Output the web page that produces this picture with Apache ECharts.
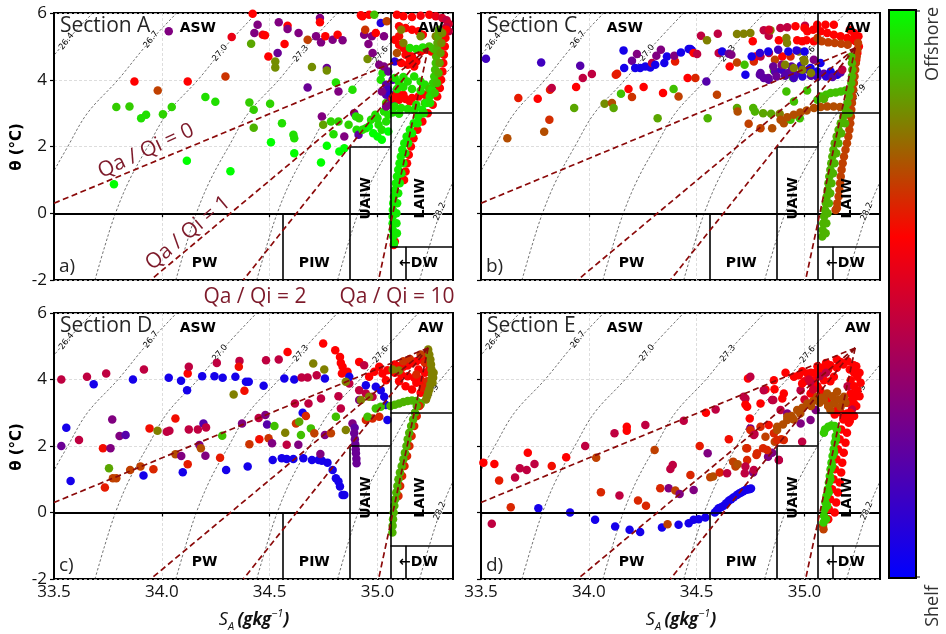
<!DOCTYPE html>
<html>
<head>
<meta charset="utf-8">
<script src="https://cdn.jsdelivr.net/npm/echarts@6/dist/echarts.min.js"></script>
<style>
html,body{margin:0;padding:0;background:#fff;}
#chart{width:946px;height:634px;}
</style>
</head>
<body>
<div id="chart"></div>
<script>
// ---- axis ticks ----
const xTicks = [33.5, 34.0, 34.5, 35.0];
const yTicks = [-2, 0, 2, 4, 6];

// ---- isopycnals (sigma0): absolute salinity at each theta ----
const isoTheta = [-2, -1, 0, 1, 2, 3, 4, 5, 6];
const iso264 = [32.930, 32.975, 33.025, 33.090, 33.175, 33.266, 33.408, 33.535, 33.680];
const iso267 = [33.319, 33.364, 33.414, 33.479, 33.564, 33.655, 33.797, 33.924, 34.069];
const iso270 = [33.690, 33.735, 33.785, 33.850, 33.935, 34.026, 34.168, 34.295, 34.440];
const iso273 = [34.065, 34.110, 34.160, 34.225, 34.310, 34.401, 34.543, 34.670, 34.815];
const iso276 = [34.440, 34.485, 34.535, 34.600, 34.685, 34.776, 34.918, 35.045, 35.190];
const iso279 = [34.815, 34.860, 34.910, 34.975, 35.060, 35.151, 35.293, 35.420, 35.565];
const iso282 = [35.195, 35.240, 35.290, 35.355, 35.440, 35.531, 35.673, 35.800, 35.945];
const isoLevels = ['26.4', '26.7', '27.0', '27.3', '27.6', '27.9', '28.2'];

// ---- mixing lines from the Atlantic Water end member ----
const awEnd = [35.235, 4.95];
const mixEnds = [[33.5, 0.3], [33.948, -2], [34.378, -2], [35.005, -2]];
const mixLabels = ['Qa / Qi = 0', 'Qa / Qi = 1', 'Qa / Qi = 2', 'Qa / Qi = 10'];

// ---- water mass boundaries ----
const boxSegs = [
  [[33.5, 0], [34.87, 0]],
  [[34.56, 0], [34.56, -2]],
  [[34.87, -2], [34.87, 2]],
  [[34.87, 2], [35.06, 2]],
  [[35.06, -2], [35.06, 6]],
  [[35.06, 3], [35.35, 3]],
  [[35.06, -1], [35.35, -1]],
  [[35.13, -1], [35.13, -2]]
];
const massNames = ['ASW', 'AW', 'PW', 'PIW', 'UAIW', 'LAIW', '\u2190DW'];
const massAt = [[34.167, 5.55], [35.247, 5.55], [34.198, -1.5], [34.707, -1.5], [34.946, 0.45], [35.2, 0.45], [35.19, -1.5]];

// ---- CTD samples [S_A, theta, position 0 = shelf ... 1 = offshore] ----
const secA_pts = [
[34.032,5.45,0.3],[33.778,0.87,1],[33.789,3.18,0.92],[33.850,3.2,0.92],[33.873,3.95,0.6],[33.904,2.85,0.95],[33.927,2.95,0.95],
[33.981,3.68,0.7],[34.005,2.97,0.93],[34.046,3.18,0.93],[34.116,1.57,1],[34.120,3.95,0.6],[34.202,3.48,0.95],[34.248,3.34,0.95],
[34.295,4.1,0.68],[34.318,1.26,1],[34.324,5.28,0.55],[34.406,3.32,0.92],[34.414,5.08,0.86],[34.421,5.98,0.6],[34.426,3.1,0.92],
[34.426,2.56,0.88],[34.429,5.4,0.3],[34.444,5.65,0.3],[34.468,5.35,0.55],[34.478,5.33,0.6],[34.537,4.8,0.25],[34.494,4.7,0.6],
[34.502,3.28,0.93],[34.506,2.13,1],[34.526,4.55,0.82],[34.526,4.37,0.82],[34.542,5.72,0.3],[34.557,2.7,0.95],[34.569,5.07,0.6],
[34.583,5.62,0.6],[34.583,5.52,0.3],[34.61,2.35,0.95],[34.614,1.8,1],[34.614,2.25,0.95],[34.634,5.4,0.3],[34.676,3.77,0.25],
[34.676,5.2,0.7],[34.696,4.38,0.82],[34.715,5.3,0.3],[34.733,5.85,0.3],[34.733,5.72,0.6],[34.738,5.12,0.3],[34.738,1.52,1],
[34.742,2.9,0.3],[34.748,2.65,0.85],[34.758,5.3,0.6],[34.765,4.35,0.25],[34.765,4.28,0.82],[34.765,2.02,1],[34.784,2.75,0.93],
[34.792,5.2,0.3],[34.796,2.37,0.95],[34.807,3.92,0.95],[34.815,5.35,0.6],[34.819,3.65,0.3],[34.819,2.75,0.93],[34.823,1.85,1],
[34.838,5.18,0.3],[34.846,2.3,0.3],[34.846,1.95,1],[34.866,2.65,0.93],[34.884,3.7,0.95],[34.892,3.0,0.3],[34.9,2.9,0.95],
[34.903,2.5,0.95],[34.912,2.35,0.22],[34.915,2.85,0.93],[34.923,5.93,0.6],[34.93,5.9,0.6],[34.93,2.5,0.95],[34.938,5.35,0.3],
[34.943,5.5,0.68],[34.946,2.55,0.95],[34.958,5.07,0.3],[34.954,4.62,0.82],[34.961,5.95,0.6],[34.974,5.3,0.3],[34.977,4.8,0.3],
[34.985,5.95,0.9],[34.992,5.4,0.6],[35.005,2.65,0.95],[35.008,4.45,0.3],[35.015,5.7,0.08],[35.015,4.0,0.95],[35.023,4.2,0.95],
[35.03,5.3,0.3],[35.043,5.75,0.7],
[34.96,2.6,1],[34.98,2.4,1],[35.0,2.3,1],[35.02,2.5,0.95],[35.04,2.75,0.95],[35.05,2.95,0.95],[34.97,2.8,0.95],[35.0,2.85,0.95],
[35.03,3.05,0.95],[35.02,2.2,1],[35.05,2.45,1],[34.99,2.95,0.95],[35.04,3.3,0.9]
];
const secA_aw = [
[35.03,4.4,0.3],[35.05,4.25,0.25],[35.04,3.85,0.22],[35.05,3.7,0.15],[35.04,3.55,0.2],[35.06,3.45,0.25],[35.08,3.35,0.3],
[35.06,3.25,0.3],[35.04,3.2,0.3],[35.08,4.55,0.1],[35.02,3.65,0.3],[35.06,3.55,0.1],[35.07,4.0,0.2],
[35.09,5.95,0.6],[35.12,5.9,0.6],[35.16,5.88,0.6],[35.2,5.92,0.58],[35.24,5.95,0.6],[35.27,5.9,0.55],[35.3,5.85,0.5],[35.32,5.78,0.45],
[35.33,5.68,0.5],[35.32,5.58,0.45],[35.3,5.5,0.5],[35.33,5.45,0.45],[35.31,5.38,0.5],
[35.1,5.6,0.6],[35.13,5.55,0.6],[35.16,5.5,0.6],[35.19,5.45,0.6],[35.21,5.35,0.6],[35.1,5.3,0.62],
[35.08,5.2,0.6],[35.1,5.05,0.6],[35.12,4.95,0.6],[35.14,4.88,0.6],[35.13,4.75,0.6],[35.15,4.6,0.6],[35.18,4.55,0.6],
[35.2,4.85,0.6],[35.22,4.9,0.6],[35.25,4.85,0.6],[35.11,4.5,0.6],[35.14,4.45,0.6],[35.17,4.4,0.6],[35.16,4.7,0.6],
[35.07,3.45,0.6],[35.1,3.4,0.6],[35.13,3.42,0.6],[35.16,3.45,0.6],[35.19,3.5,0.6],[35.22,3.55,0.6],[35.12,3.55,0.6],[35.15,3.35,0.6],[35.09,3.6,0.6],
[35.11,5.5,0.8],[35.12,5.1,0.8],[35.09,4.8,0.72],[35.27,5.3,0.8],[35.3,5.2,0.8],[35.29,5.05,0.85],[35.2,5.3,0.82],
[35.15,4.95,0.95],[35.18,4.92,0.95],[35.21,4.97,0.95],[35.24,5.0,0.9],[35.26,4.93,0.9],[35.17,4.1,0.95],[35.14,3.95,0.95],
[35.08,4.05,0.95],[35.1,3.92,0.95],[35.12,4.08,0.95],[35.2,3.95,0.95],[35.22,3.85,0.95],[35.09,3.72,0.95],[35.12,3.78,0.95],
[35.16,3.72,0.95],[35.2,3.67,0.95],[35.24,3.72,0.9],[35.08,3.2,0.95],[35.11,3.15,0.95],[35.14,3.12,0.95],[35.17,3.1,0.95],
[35.07,3.02,0.95],[35.1,2.98,0.95],[35.18,3.25,0.95],[35.22,3.3,0.9]
];
const secA_prof = [
[35.075,-0.95,0.6],[35.08,-0.85,0.6],
[35.123,1.0,0.6],[35.13,1.25,0.6],[35.137,1.5,0.6],[35.145,1.75,0.6],[35.155,2.0,0.6],[35.167,2.25,0.6],[35.185,2.5,0.6],
[35.208,2.75,0.6],[35.233,3.0,0.6],[35.256,3.25,0.6],[35.277,3.5,0.6],[35.289,3.75,0.6],[35.295,4.0,0.6],[35.301,4.25,0.6],
[35.305,4.5,0.6],[35.308,4.75,0.6],[35.312,5.0,0.6],[35.315,5.25,0.6],[35.319,5.5,0.6],
[35.077,-0.9,0.97],[35.073,-0.7,0.97],[35.071,-0.5,0.97],[35.070,-0.3,0.97],[35.070,-0.1,0.97],[35.071,0.1,0.97],[35.073,0.3,0.97],
[35.076,0.5,0.97],[35.080,0.7,0.97],[35.085,0.9,0.97],[35.090,1.1,0.97],[35.096,1.3,0.97],[35.102,1.5,0.97],[35.108,1.7,0.97],
[35.115,1.9,0.97],[35.124,2.1,0.97],[35.135,2.3,0.97],[35.150,2.5,0.97],[35.168,2.7,0.97],[35.188,2.9,0.97],[35.207,3.1,0.97],
[35.226,3.3,0.97],[35.242,3.5,0.95],[35.252,3.7,0.95],[35.258,3.9,0.92],[35.263,4.1,0.92],[35.267,4.3,0.9],[35.270,4.5,0.9],
[35.272,4.7,0.88],[35.275,4.9,0.88],[35.278,5.1,0.86],[35.281,5.3,0.86],[35.284,5.5,0.86],
[35.09,-0.6,0.97],[35.088,-0.3,0.97],[35.088,0.0,0.97],[35.091,0.3,0.97],[35.096,0.6,0.97],[35.103,0.9,0.97],[35.111,1.2,0.97],
[35.12,1.5,0.97],[35.129,1.8,0.97],[35.142,2.1,0.97],[35.16,2.4,0.97],[35.186,2.7,0.97],[35.215,3.0,0.95],[35.244,3.3,0.95],
[35.265,3.6,0.92],[35.276,3.9,0.9],[35.283,4.2,0.88],[35.288,4.5,0.85],[35.292,4.8,0.85],[35.296,5.1,0.82],[35.3,5.4,0.82]
];

const secC_pts = [
[33.523,4.63,0.15],[33.622,2.25,0.72],[33.673,3.45,0.64],[33.763,3.43,0.6],[33.779,4.52,0.15],[33.793,2.44,0.72],[33.817,2.8,0.67],
[33.82,3.7,0.64],[33.828,3.75,0.45],[33.932,3.15,0.86],[33.941,3.78,0.6],[33.96,4.42,0.2],[33.972,4.05,0.45],[34.014,4.17,0.45],
[34.073,3.28,0.82],[34.107,3.3,0.72],[34.115,3.15,0.86],[34.125,4.15,0.64],[34.131,4.18,0.64],[34.149,3.58,0.9],[34.161,4.88,0.05],
[34.164,4.35,0.05],[34.184,3.72,0.6],[34.2,3.48,0.68],[34.2,4.57,0.25],[34.223,4.77,0.3],[34.215,4.35,0.05],[34.238,4.35,0.05],
[34.262,4.4,0.05],[34.285,4.37,0.05],[34.254,3.78,0.6],[34.293,4.5,0.45],[34.308,4.45,0.05],[34.313,4.72,0.3],[34.319,2.85,0.86],
[34.334,4.9,0.3],[34.344,3.6,0.6],[34.35,4.5,0.05],[34.362,4.7,0.05],[34.4,4.55,0.64],[34.396,4.72,0.3],[34.393,3.72,0.9],
[34.416,3.5,0.7],[34.427,4.82,0.05],[34.458,4.05,0.6],[34.463,4.92,0.05],[34.471,4.92,0.05],[34.478,4.88,0.05],[34.486,4.8,0.6],
[34.494,4.05,0.66],[34.502,4.77,0.45],[34.52,5.32,0.45],[34.545,3.95,0.2],[34.548,5.18,0.8],[34.551,2.85,0.88],[34.594,3.55,0.7],
[34.598,5.38,0.45],[34.602,4.8,0.45],[34.618,4.85,0.05],[34.649,4.78,0.25],[34.653,4.4,0.6],[34.661,4.75,0.3],[34.687,5.37,0.8],
[34.718,5.38,0.8],[34.749,5.4,0.8],[34.687,3.15,0.86],[34.69,3.05,0.72],[34.687,4.52,0.7],[34.722,4.45,0.9],[34.726,4.15,0.05],
[34.741,2.68,0.7],[34.76,5.15,0.6],[34.762,3.15,0.88],[34.796,2.55,0.7],[34.811,5.48,0.45],[34.808,3.0,0.86],[34.834,5.32,0.45],
[34.842,5.48,0.8],[34.845,2.98,0.86],[34.85,2.55,0.72],[34.858,4.28,0.9],[34.881,5.18,0.6],[34.885,2.98,0.8],[34.888,5.55,0.45],
[34.904,2.7,0.72],[34.916,3.65,0.9],[34.919,5.1,0.8],[34.92,5.57,0.45],[34.935,2.8,0.9],[34.947,4.05,0.9],[34.958,5.6,0.6],
[34.966,5.18,0.6],[34.978,2.85,0.9],[34.989,5.15,0.6],[35.002,5.62,0.45],[35.009,5.18,0.6],[35.012,3.68,0.9],[35.043,5.15,0.6],
[35.059,5.65,0.6],[35.097,5.65,0.6],[35.136,5.65,0.6],
[34.765,4.55,0.66],[34.773,4.7,0.6],[34.796,4.7,0.45],[34.835,4.8,0.45],[34.863,4.6,0.7],[34.897,4.7,0.6],[34.935,4.7,0.66],
[34.974,4.85,0.8],[34.997,4.6,0.8],[34.916,5.25,0.8],[34.835,5.5,0.5],[35.013,5.45,0.6],[34.77,3.05,0.88],[34.951,3.35,0.9]
];
const secC_band = [
[34.755,4.7,0.05],[34.793,4.8,0.1],[34.832,4.85,0.05],[34.878,4.9,0.15],[34.925,4.85,0.05],[34.963,4.88,0.1],[35.0,4.85,0.05],
[34.793,4.15,0.22],[34.832,4.05,0.25],[34.863,4.25,0.2],[34.894,4.3,0.15],[34.925,4.2,0.22],[34.956,4.15,0.2],[34.987,4.25,0.25],
[35.018,4.3,0.15],[34.855,4.4,0.25],[34.894,4.45,0.3],[34.94,4.4,0.22],[34.983,4.42,0.1],
[35.028,4.35,0.05],[35.059,4.25,0.05],[35.09,4.18,0.2],[35.121,4.25,0.05],[35.152,4.15,0.05],[35.167,4.22,0.2],[35.074,4.5,0.05],
[35.043,4.6,0.3],[35.175,4.3,0.45],
[34.796,4.2,0.22],[34.811,4.05,0.22],[34.834,4.0,0.22],[34.87,4.1,0.25],[34.91,4.12,0.2],[34.95,4.05,0.15],[34.99,4.1,0.1],
[35.03,4.12,0.2],[35.06,4.08,0.15],[35.1,4.1,0.1],[35.13,4.08,0.2]
];
const secC_aw = [
[35.0,5.55,0.6],[35.04,5.5,0.6],[35.074,5.45,0.6],[35.105,5.4,0.6],[35.136,5.35,0.6],[35.167,5.3,0.6],[35.198,5.25,0.6],
[35.222,5.2,0.6],[35.237,5.15,0.6],[35.252,5.0,0.6],[35.245,4.8,0.6],[35.24,4.6,0.62],[35.25,5.3,0.6],[35.23,5.4,0.6],[35.21,5.5,0.6],
[35.08,5.15,0.7],[35.11,5.12,0.7],[35.14,5.1,0.7],[35.17,5.08,0.7],[35.2,5.05,0.7],[35.06,5.25,0.7],
[34.91,4.45,0.8],[34.95,4.35,0.8],[34.99,4.3,0.8],[35.03,4.2,0.8],[35.0,4.55,0.8],
[35.075,3.5,0.9],[35.1,3.55,0.9],[35.121,3.6,0.9],[35.145,3.62,0.9],[35.168,3.65,0.9],[35.19,3.68,0.9],[35.214,3.7,0.9],
[35.06,3.4,0.9],[35.09,3.42,0.88],
[34.889,2.8,0.72],[34.92,2.88,0.72],[34.95,2.95,0.72],[34.98,3.02,0.72],[35.01,3.08,0.72],[35.044,3.15,0.72],[35.075,3.18,0.72],
[35.105,3.2,0.72],[35.135,3.2,0.72],[35.165,3.18,0.72],[35.19,3.15,0.72]
];
const secC_prof = [
[35.248,5.1,0.7],[35.245,4.9,0.7],[35.242,4.7,0.7],[35.238,4.5,0.7],[35.235,4.3,0.7],[35.232,4.1,0.7],[35.229,3.9,0.7],
[35.226,3.7,0.7],[35.223,3.5,0.7],[35.22,3.3,0.7],[35.217,3.1,0.7],[35.215,2.9,0.7],[35.212,2.7,0.7],[35.208,2.5,0.7],
[35.203,2.3,0.7],[35.197,2.1,0.7],[35.19,1.9,0.7],[35.183,1.7,0.7],[35.177,1.5,0.7],[35.172,1.3,0.7],[35.168,1.1,0.7],
[35.165,0.9,0.7],[35.162,0.7,0.7],[35.158,0.5,0.7],[35.152,0.3,0.7],[35.144,0.1,0.7],[35.15,0.15,0.7],
[35.082,-0.7,0.88],[35.084,-0.5,0.88],[35.087,-0.3,0.88],[35.091,-0.1,0.88],[35.095,0.1,0.88],[35.099,0.3,0.88],[35.103,0.5,0.88],
[35.107,0.7,0.88],[35.111,0.9,0.88],[35.115,1.1,0.88],[35.12,1.3,0.88],[35.124,1.5,0.88],[35.129,1.7,0.88],[35.134,1.9,0.88],
[35.14,2.1,0.88],[35.149,2.3,0.88],[35.158,2.5,0.88],[35.168,2.7,0.88],[35.18,2.9,0.88],[35.191,3.1,0.88],[35.199,3.3,0.88],
[35.206,3.5,0.88],[35.212,3.7,0.88],[35.217,3.9,0.88],[35.22,4.1,0.88],[35.222,4.3,0.88],[35.22,4.5,0.88],[35.217,4.7,0.88],
[35.098,-0.6,0.88],[35.101,-0.3,0.88],[35.107,0.0,0.88],[35.113,0.3,0.88],[35.119,0.6,0.88],[35.125,0.9,0.88],[35.132,1.2,0.88],
[35.139,1.5,0.88],[35.147,1.8,0.88],[35.157,2.1,0.88],[35.17,2.4,0.88],[35.188,2.7,0.88],[35.206,3.0,0.88]
];

const secD_pts = [
[33.534,4.0,0.45],[33.557,2.55,0.05],[33.534,2.0,0.25],[33.577,0.95,0.05],[33.616,2.18,0.45],[33.653,4.08,0.45],[33.684,3.86,0.05],
[33.727,1.93,0.62],[33.736,0.75,0.64],[33.742,4.18,0.45],[33.755,1.33,0.86],[33.762,1.93,0.3],[33.77,2.8,0.3],[33.773,1.03,0.7],
[33.789,1.03,0.7],[33.804,2.3,0.3],[33.832,2.33,0.2],[33.853,1.28,0.7],[33.866,4.0,0.05],[33.901,1.38,0.7],[33.915,1.11,0.05],
[33.917,4.3,0.45],[33.943,2.53,0.62],[33.961,1.3,0.66],[33.98,2.46,0.8],[34.023,2.43,0.45],[34.032,4.05,0.05],[34.035,2.46,0.45],
[34.063,2.83,0.62],[34.063,1.75,0.72],[34.09,1.7,0.3],[34.089,3.96,0.05],[34.097,1.21,0.05],[34.117,3.68,0.05],[34.12,1.45,0.64],
[34.12,4.18,0.6],[34.125,4.38,0.45],[34.125,2.5,0.45],[34.167,2.5,0.45],[34.174,2.03,0.3],[34.181,1.93,0.72],[34.187,4.1,0.05],
[34.193,2.68,0.2],[34.202,1.71,0.3],[34.205,2.56,0.45],[34.244,4.1,0.05],[34.255,4.5,0.45],[34.27,1.65,0.64],[34.28,2.31,0.9],
[34.282,4.05,0.05],[34.298,1.28,0.05],[34.333,3.55,0.8],[34.341,4.08,0.05],[34.36,4.56,0.45],[34.357,4.38,0.62],[34.372,2.68,0.3],
[34.383,3.66,0.62],[34.39,3.93,0.05],[34.398,1.38,0.05],[34.403,3.93,0.05],[34.406,2.05,0.68],[34.449,2.84,0.45],[34.452,2.2,0.62],
[34.472,3.81,0.05],[34.48,2.93,0.3],[34.483,4.58,0.45],[34.488,2.65,0.2],[34.495,2.23,0.68],[34.511,2.08,0.3],[34.514,1.58,0.05],
[34.522,2.6,0.9],[34.542,4.6,0.45],[34.556,1.63,0.05],[34.579,1.61,0.05],[34.61,1.61,0.05],[34.568,4.03,0.05],[34.572,2.4,0.8],
[34.579,2.04,0.45],[34.583,4.83,0.6],[34.614,4.0,0.05],[34.617,3.28,0.45],[34.622,2.68,0.68],[34.633,2.04,0.3],[34.637,2.73,0.86],
[34.645,2.33,0.9],[34.648,4.06,0.45],[34.653,3.0,0.05],[34.656,1.63,0.05],[34.668,2.9,0.66],[34.676,4.06,0.45],[34.68,3.28,0.45],
[34.691,2.53,0.9],[34.696,1.58,0.05],[34.702,4.48,0.8],[34.707,2.38,0.7],[34.718,4.13,0.45],[34.727,1.58,0.05],[34.742,1.56,0.05],
[34.768,1.5,0.05],[34.735,1.76,0.3],[34.738,3.43,0.45],[34.748,5.08,0.6],[34.753,4.3,0.8],[34.756,2.33,0.3],[34.756,4.03,0.05],
[34.784,2.38,0.7],[34.792,1.28,0.05],[34.807,1.03,0.05],[34.819,0.93,0.05],[34.826,0.78,0.05],[34.838,0.53,0.05],[34.846,0.53,0.05],
[34.804,4.88,0.6],[34.807,2.88,0.9],[34.819,3.5,0.45],[34.826,4.68,0.6],[34.83,4.5,0.6],[34.835,4.18,0.6]
];
const secD_mix = [
[34.838,4.38,0.6],[34.861,4.23,0.6],[34.915,4.53,0.6],[34.938,4.43,0.45],[35.008,4.38,0.6],[34.869,3.88,0.45],[34.915,3.68,0.45],
[34.946,3.58,0.45],[34.977,3.48,0.45],[34.915,3.38,0.3],[34.869,4.08,0.05],[34.946,3.83,0.05],[34.992,3.78,0.05],[35.015,3.68,0.05],
[35.031,3.48,0.05],[35.039,3.23,0.05],[35.046,2.78,0.05],[34.853,3.93,0.8],[34.923,3.38,0.8],[34.961,3.48,0.8],[34.946,2.78,0.66],
[34.977,2.83,0.66],[35.008,2.88,0.66],[34.954,2.88,0.9],[34.992,3.13,0.9],[35.015,3.18,0.9],[34.884,2.68,0.3],[34.853,2.48,0.8],
[34.83,3.13,0.45],[34.961,4.08,0.6],[34.985,4.23,0.6],[35.023,4.18,0.6],[35.039,3.98,0.6],[35.046,4.28,0.6],
[34.894,2.55,0.22],[34.892,2.38,0.25],[34.895,2.2,0.25],[34.897,2.05,0.25],[34.899,1.9,0.25],[34.9,1.78,0.25],[34.902,1.62,0.25],[34.903,1.48,0.25]
];
const secD_aw = [
[35.08,4.45,0.6],[35.1,4.4,0.6],[35.12,4.38,0.6],[35.14,4.42,0.6],[35.16,4.5,0.6],[35.18,4.55,0.6],[35.2,4.6,0.6],[35.22,4.7,0.6],
[35.08,4.2,0.6],[35.11,4.15,0.6],[35.14,4.1,0.6],[35.17,4.05,0.6],[35.2,4.0,0.6],[35.18,3.9,0.6],[35.21,3.85,0.6],[35.16,3.7,0.6],
[35.2,3.6,0.6],[35.23,3.65,0.6],[35.1,3.95,0.6],[35.13,3.8,0.6],[35.22,4.2,0.6],[35.24,4.3,0.6],[35.19,4.3,0.6],
[35.12,4.55,0.68],[35.15,4.62,0.68],[35.2,4.75,0.7],[35.22,4.5,0.66],[35.18,4.15,0.66],[35.23,3.95,0.66],[35.21,3.75,0.64],
[35.07,4.3,0.8],[35.1,4.27,0.8],
[35.235,4.9,0.8],[35.24,4.75,0.8],[35.245,4.6,0.8],[35.248,4.45,0.8],[35.25,4.3,0.8],[35.252,4.15,0.8],[35.25,4.0,0.8],
[35.245,3.85,0.8],[35.24,3.7,0.8],[35.235,3.6,0.8],[35.23,3.5,0.8],[35.225,3.4,0.8],[35.26,4.2,0.8],[35.258,4.05,0.8],[35.255,3.9,0.8]
];
const secD_prof = [
[35.06,3.2,0.88],[35.08,3.24,0.88],[35.1,3.28,0.88],[35.12,3.32,0.88],[35.14,3.35,0.88],[35.16,3.37,0.88],[35.18,3.35,0.88],
[35.19,3.3,0.88],[35.2,3.25,0.88],
[35.097,0.5,0.66],[35.105,0.8,0.66],[35.114,1.1,0.66],[35.125,1.4,0.66],[35.137,1.7,0.66],[35.148,2.0,0.66],[35.158,2.3,0.66],
[35.17,2.6,0.66],[35.182,2.9,0.66],[35.194,3.2,0.66],
[35.069,-0.6,0.88],[35.07,-0.4,0.88],[35.072,-0.2,0.88],[35.075,0.0,0.88],[35.078,0.2,0.88],[35.082,0.4,0.88],[35.087,0.6,0.88],
[35.092,0.8,0.88],[35.097,1.0,0.88],[35.104,1.2,0.88],[35.112,1.4,0.88],[35.12,1.6,0.88],[35.127,1.8,0.88],[35.134,2.0,0.88],
[35.14,2.2,0.88],[35.147,2.4,0.88],[35.156,2.6,0.88],[35.165,2.8,0.88],[35.174,3.0,0.88],[35.182,3.2,0.88]
];

const secE_pts = [
[33.511,1.5,0.6],[33.562,1.46,0.6],[33.55,-0.34,0.45],[33.584,0.96,0.64],[33.638,0.16,0.66],[33.658,1.05,0.45],[33.68,1.33,0.45],
[33.712,1.28,0.45],[33.717,1.8,0.6],[33.748,1.46,0.45],[33.766,0.13,0.05],[33.828,1.4,0.62],[33.895,1.66,0.6],[33.913,0.0,0.05],
[33.983,2.0,0.45],[34.029,-0.22,0.05],[34.034,1.65,0.7],[34.056,0.61,0.66],[34.119,2.38,0.45],[34.122,-0.42,0.05],[34.142,0.51,0.45],
[34.176,2.58,0.6],[34.176,2.46,0.6],[34.189,-0.52,0.05],[34.228,0.36,0.66],[34.238,-0.59,0.05],[34.262,2.63,0.45],[34.265,0.2,0.66],
[34.305,1.88,0.7],[34.331,0.73,0.66],[34.339,-0.45,0.05],[34.365,-0.35,0.7],[34.37,0.73,0.3],[34.378,1.31,0.45],[34.389,1.43,0.45],
[34.401,0.66,0.7],[34.416,-0.37,0.05],[34.421,0.56,0.3],[34.44,2.76,0.45],[34.463,-0.32,0.05],[34.486,-0.22,0.05],[34.509,-0.2,0.05],
[34.54,-0.15,0.05],[34.471,1.13,0.66],[34.486,0.68,0.3],[34.514,2.0,0.64],[34.543,3.0,0.6],[34.551,1.78,0.3],[34.563,1.06,0.7],
[34.576,1.08,0.72],[34.588,3.1,0.45],[34.607,1.2,0.66],[34.641,1.18,0.45],[34.649,2.2,0.62],[34.669,1.53,0.7],[34.68,1.38,0.7],
[34.69,1.45,0.72],[34.723,1.18,0.45],[34.726,3.43,0.45],[34.726,3.25,0.6],[34.73,1.93,0.7],[34.734,1.58,0.66],[34.738,4.03,0.6],
[34.746,2.83,0.6],[34.749,2.53,0.3],[34.762,1.2,0.3],[34.768,2.36,0.45],[34.777,1.73,0.66],[34.808,1.93,0.66],[34.819,3.7,0.6],
[34.819,2.28,0.7],[34.831,1.68,0.3],[34.834,2.63,0.62],[34.85,1.8,0.3],[34.855,3.38,0.45],[34.861,3.71,0.6],[34.862,2.13,0.7],
[34.881,1.58,0.3],[34.892,2.2,0.66],[34.897,3.43,0.6],[34.912,4.2,0.6],[34.974,4.13,0.6],
[34.584,0.0,0.05],[34.593,0.06,0.05],[34.602,0.13,0.05],[34.613,0.16,0.05],[34.625,0.2,0.05],[34.637,0.28,0.05],[34.649,0.35,0.05],
[34.66,0.4,0.05],[34.672,0.46,0.05],[34.687,0.53,0.05],[34.697,0.57,0.05],[34.706,0.6,0.05],[34.716,0.64,0.05],[34.726,0.68,0.05],
[34.733,0.69,0.05],[34.741,0.7,0.05],[34.747,0.71,0.05],[34.752,0.72,0.05]
];
const secE_mix = [
[34.749,4.08,0.45],[34.811,3.68,0.45],[34.858,3.98,0.6],[34.904,3.58,0.6],[34.951,4.08,0.6],[34.982,3.68,0.45],[34.718,3.48,0.45],
[34.734,3.18,0.6],[34.796,3.28,0.6],[34.85,3.38,0.45],[34.889,3.08,0.45],
[34.92,2.98,0.3],[34.982,2.68,0.3],[35.028,2.78,0.3],[35.052,3.08,0.3],
[34.749,2.48,0.66],[34.796,2.58,0.66],[34.858,2.38,0.66],[34.904,2.18,0.66],[34.734,1.93,0.66],[34.78,1.78,0.66],[34.827,1.88,0.66],[34.873,2.18,0.66],
[34.765,2.33,0.45],[34.726,1.38,0.45],[34.765,1.28,0.45],[34.881,1.58,0.45],[34.989,2.13,0.45],
[34.99,4.25,0.6],[35.03,4.2,0.6],[35.0,3.95,0.55]
];
const secE_aw = [
[35.073,4.28,0.6],[35.12,4.43,0.6],[35.167,4.53,0.6],[35.229,4.43,0.6],[35.245,4.08,0.6],[35.245,3.68,0.6],[35.229,3.28,0.6],
[35.198,2.98,0.6],[35.151,3.08,0.6],[35.105,3.38,0.6],[35.073,3.68,0.6],[35.09,3.98,0.6],[35.136,4.08,0.6],[35.214,3.98,0.6],
[35.214,3.58,0.6],[35.044,3.98,0.6],[35.013,4.18,0.6],[34.989,3.88,0.6],[35.028,3.58,0.6],
[35.06,4.4,0.6],[35.1,4.5,0.6],[35.15,4.6,0.6],[35.2,4.55,0.6],[35.24,4.4,0.6],[35.255,4.2,0.6],[35.26,3.9,0.6],[35.255,3.5,0.6],
[35.24,3.2,0.6],[35.07,4.1,0.45],[35.03,3.9,0.45],[35.2,3.8,0.45],[35.22,3.1,0.45],[35.23,2.9,0.6],
[35.08,4.35,0.6],[35.11,4.3,0.6],[35.15,4.35,0.6],[35.18,4.45,0.6],[35.21,4.3,0.6],[35.23,4.2,0.6],[35.23,3.8,0.6],[35.24,3.5,0.6],
[35.22,3.4,0.6],[35.2,3.3,0.6],[35.17,3.0,0.6],[35.19,2.85,0.6],[35.21,2.75,0.6],[35.14,2.95,0.6],[35.11,3.2,0.6],[35.08,3.5,0.6],
[35.06,3.8,0.6],[35.05,4.2,0.6],[35.12,3.95,0.6],[35.1,4.2,0.45],[35.02,4.0,0.5],[35.04,3.7,0.5],[35.0,3.4,0.5],
[34.873,2.48,0.72],[34.873,2.58,0.72],[34.92,2.78,0.72],[34.92,2.88,0.72],[34.966,3.08,0.72],[35.013,3.28,0.72],[35.059,3.48,0.72],
[35.105,3.58,0.72],[35.151,3.63,0.72],[35.183,3.48,0.72],[35.136,3.28,0.72],[35.09,3.38,0.72],[35.167,3.18,0.72],[35.12,3.08,0.72],
[34.9,2.65,0.72],[34.94,2.9,0.72],[34.99,3.15,0.72],[35.04,3.35,0.72],[35.08,3.45,0.72],[35.13,3.5,0.72],[35.16,3.4,0.72],
[35.19,3.3,0.72],[35.11,3.2,0.72],[35.07,3.3,0.72],[35.03,3.2,0.72],[34.98,2.98,0.72],[34.95,2.8,0.72]
];
const secE_prof = [
[35.14,0.0,0.6],[35.147,0.3,0.6],[35.155,0.6,0.6],[35.163,0.9,0.6],[35.17,1.2,0.6],[35.175,1.5,0.6],[35.182,1.8,0.6],
[35.19,2.1,0.6],[35.197,2.4,0.6],[35.205,2.7,0.6],[35.212,3.0,0.6],
[35.11,-0.2,0.6],[35.113,0.1,0.6],[35.119,0.4,0.6],[35.128,0.7,0.6],[35.135,1.0,0.6],[35.141,1.3,0.6],[35.148,1.6,0.6],
[35.155,1.9,0.6],[35.163,2.2,0.6],[35.17,2.5,0.6],[35.18,2.8,0.6],
[35.088,-0.5,0.7],[35.086,-0.4,0.7],
[35.088,-0.3,0.92],[35.09,-0.1,0.92],[35.093,0.1,0.92],[35.097,0.3,0.92],[35.102,0.5,0.92],[35.108,0.7,0.92],[35.113,0.9,0.92],
[35.117,1.1,0.92],[35.121,1.3,0.92],[35.125,1.5,0.92],[35.13,1.7,0.92],[35.135,1.9,0.92],[35.14,2.1,0.92],[35.145,2.3,0.92],
[35.15,2.5,0.92],[35.14,2.6,0.92],[35.125,2.62,0.92],[35.11,2.58,0.92],[35.095,2.5,0.92],[35.09,2.4,0.92],
[35.1,-0.2,0.92],[35.105,0.2,0.92],[35.112,0.6,0.92],[35.12,1.0,0.92],[35.128,1.4,0.92],[35.137,1.8,0.92],[35.146,2.2,0.92]
];

const panelData = [
  secA_pts.concat(secA_aw, secA_prof),
  secC_pts.concat(secC_band, secC_aw, secC_prof),
  secD_pts.concat(secD_mix, secD_aw, secD_prof),
  secE_pts.concat(secE_mix, secE_aw, secE_prof)
];
const panelTitles = ['Section A', 'Section C', 'Section D', 'Section E'];
const panelTags = ['a)', 'b)', 'c)', 'd)'];

// colour ramp: shelf (blue) -> red -> offshore (green)
const rampColors = ['#0000ff', '#5500aa', '#aa0055', '#ff0000', '#808000', '#00ff00'];

// ---- layout ----
const grids = [
  {left: 54, top: 13, width: 399, height: 267},
  {left: 481, top: 13, width: 399, height: 267},
  {left: 54, top: 313, width: 399, height: 266},
  {left: 481, top: 313, width: 399, height: 266}
];
const FONT = '"Open Sans", "Noto Sans", sans-serif';
const BOLD = '"DejaVu Sans", sans-serif';
const QCOLOR = '#7d1a2a';
const isoArrays = [iso264, iso267, iso270, iso273, iso276, iso279, iso282];
const isoLabelAt = [[33.558, 5.15, 52], [33.95, 5.2, 52], [34.27, 4.8, 50], [34.645, 4.78, 50], [35.015, 4.75, 50], [35.25, 3.6, 52], [35.289, 0.05, 66]];

const chart = echarts.init(document.getElementById('chart'), null, {renderer: 'canvas'});

const option = {
  animation: false,
  backgroundColor: '#fff',
  grid: grids.map(g => Object.assign({show: true, borderColor: '#000', borderWidth: 2, backgroundColor: 'transparent', outerBoundsMode: 'none', containLabel: false}, g)),
  xAxis: grids.map((g, i) => ({
    type: 'value', gridIndex: i, min: 33.5, max: 35.35,
    axisLine: {show: true, lineStyle: {color: '#000', width: 2}},
    axisTick: {show: true, length: 4, lineStyle: {color: '#000', width: 1.2}, customValues: xTicks},
    axisLabel: {show: i >= 2, customValues: xTicks, formatter: v => v.toFixed(1), fontSize: 17, color: '#111', fontFamily: FONT, margin: 5},
    splitLine: {show: true, lineStyle: {color: '#d4d4d4', width: 0.8, type: [3, 2]}},
    interval: 0.5
  })),
  yAxis: grids.map((g, i) => ({
    type: 'value', gridIndex: i, min: -2, max: 6, interval: 2,
    axisLine: {show: true, lineStyle: {color: '#000', width: 2}},
    axisTick: {show: true, length: 4, lineStyle: {color: '#000', width: 1.2}, customValues: yTicks},
    axisLabel: {show: i % 2 === 0, customValues: yTicks, fontSize: 17, color: '#111', fontFamily: FONT, margin: 7},
    splitLine: {show: true, lineStyle: {color: '#d4d4d4', width: 0.8, type: [3, 2]}}
  })),
  visualMap: {
    show: false, type: 'continuous', min: 0, max: 1, dimension: 2,
    seriesId: ['pts0', 'pts1', 'pts2', 'pts3'],
    inRange: {color: rampColors}
  },
  series: [],
  graphic: []
};

grids.forEach((g, i) => {
  // isopycnals
  isoArrays.forEach((arr, k) => {
    option.series.push({
      type: 'line', xAxisIndex: i, yAxisIndex: i, z: 1, silent: true,
      data: arr.map((s, j) => [s, isoTheta[j]]),
      symbol: 'none', smooth: 0.35, clip: true,
      lineStyle: {color: '#111', width: 0.6, type: [2.5, 2]}
    });
  });
  // isopycnal labels
  option.series.push({
    type: 'scatter', xAxisIndex: i, yAxisIndex: i, z: 1, silent: true,
    symbolSize: 0, itemStyle: {opacity: 1},
    data: isoLevels.map((lv, k) => ({
      value: [isoLabelAt[k][0], isoLabelAt[k][1]],
      label: {show: true, formatter: lv, rotate: isoLabelAt[k][2], position: 'inside',
        fontSize: 8.5, color: '#000', fontFamily: BOLD, textBorderColor: '#fff', textBorderWidth: 1.5}
    }))
  });
  // samples
  option.series.push({
    id: 'pts' + i,
    type: 'scatter', xAxisIndex: i, yAxisIndex: i, z: 2, silent: true,
    symbol: 'circle', symbolSize: 8.5,
    itemStyle: {opacity: 1},
    data: panelData[i]
  });
  // water mass boundaries
  option.series.push({
    type: 'lines', coordinateSystem: 'cartesian2d', xAxisIndex: i, yAxisIndex: i, z: 3, silent: true,
    data: boxSegs.map(s => ({coords: s})),
    lineStyle: {color: '#000', width: 1.6, opacity: 1, curveness: 0}
  });
  // mixing lines
  option.series.push({
    type: 'lines', coordinateSystem: 'cartesian2d', xAxisIndex: i, yAxisIndex: i, z: 4, silent: true,
    data: mixEnds.map(e => ({coords: [awEnd, e]})),
    lineStyle: {color: '#8b0a0a', width: 1.7, opacity: 1, type: [6, 3.5], curveness: 0}
  });
  // water mass names
  option.series.push({
    type: 'scatter', xAxisIndex: i, yAxisIndex: i, z: 5, silent: true,
    symbolSize: 0, itemStyle: {opacity: 1},
    data: massNames.map((n, k) => ({
      value: massAt[k],
      label: {show: true, formatter: n, position: 'inside', rotate: (n === 'UAIW' || n === 'LAIW') ? 90 : 0,
        fontSize: 14, fontWeight: 'bold', color: '#000', opacity: 1, fontFamily: BOLD}
    }))
  });

  // panel title and tag
  option.graphic.push({
    type: 'text', z: 10, x: g.left + 6, y: g.top + 13,
    style: {text: panelTitles[i], fill: '#262626', font: '21px ' + FONT, verticalAlign: 'middle', align: 'left'}
  });
  option.graphic.push({
    type: 'text', z: 10, x: g.left + 5, y: g.top + g.height - 13,
    style: {text: panelTags[i], fill: '#262626', font: '19px ' + FONT, verticalAlign: 'middle', align: 'left'}
  });
});

// axis titles
[147, 447].forEach(y => {
  option.graphic.push({
    type: 'text', z: 10, x: 17, y: y, rotation: Math.PI / 2,
    style: {text: '\u03b8 (\u00b0C)', fill: '#000', font: 'bold 15px ' + BOLD, align: 'center', verticalAlign: 'middle'}
  });
});
[254, 681].forEach(x => {
  option.graphic.push({
    type: 'text', z: 10, x: x, y: 620,
    style: {
      text: '{i|S}{s|A} {b|(gkg}{p|\u22121}{b|)}',
      align: 'center', verticalAlign: 'middle', fill: '#111',
      rich: {
        i: {fontSize: 18, fontStyle: 'italic', fontFamily: FONT, lineHeight: 24, fill: '#111'},
        b: {fontSize: 17, fontStyle: 'italic', fontWeight: 'bold', fontFamily: FONT, lineHeight: 24, fill: '#111'},
        s: {fontSize: 11, fontStyle: 'italic', fontFamily: FONT, lineHeight: 13, verticalAlign: 'bottom', fill: '#111'},
        p: {fontSize: 11, fontStyle: 'italic', fontFamily: FONT, lineHeight: 13, verticalAlign: 'top', fill: '#111'}
      }
    }
  });
});

// mixing-line labels
const qPlace = [[146, 151, 25], [188, 233, 40], [255, 297, 0], [397, 297, 0]];
mixLabels.forEach((t, k) => {
  option.graphic.push({
    type: 'text', z: 10, x: qPlace[k][0], y: qPlace[k][1], rotation: qPlace[k][2] * Math.PI / 180,
    style: {text: t, fill: QCOLOR, font: '21px ' + FONT, align: 'center', verticalAlign: 'middle'}
  });
});

// colour bar
const cbStops = rampColors.map((c, k) => ({offset: k / (rampColors.length - 1), color: c}));
option.graphic.push({
  type: 'rect', z: 10,
  shape: {x: 889, y: 10, width: 27, height: 568},
  style: {fill: new echarts.graphic.LinearGradient(0, 1, 0, 0, cbStops), stroke: '#000', lineWidth: 2}
});
option.graphic.push({type: 'line', z: 10, shape: {x1: 916, y1: 11, x2: 920, y2: 11}, style: {stroke: '#000', lineWidth: 1}});
option.graphic.push({type: 'line', z: 10, shape: {x1: 916, y1: 577, x2: 920, y2: 577}, style: {stroke: '#000', lineWidth: 1}});
option.graphic.push({
  type: 'text', z: 10, x: 933, y: 44, rotation: Math.PI / 2,
  style: {text: 'Offshore', fill: '#333', font: '18px ' + FONT, align: 'center', verticalAlign: 'middle'}
});
option.graphic.push({
  type: 'text', z: 10, x: 933, y: 606, rotation: Math.PI / 2,
  style: {text: 'Shelf', fill: '#333', font: '18px ' + FONT, align: 'center', verticalAlign: 'middle'}
});

chart.setOption(option);
</script>
</body>
</html>
